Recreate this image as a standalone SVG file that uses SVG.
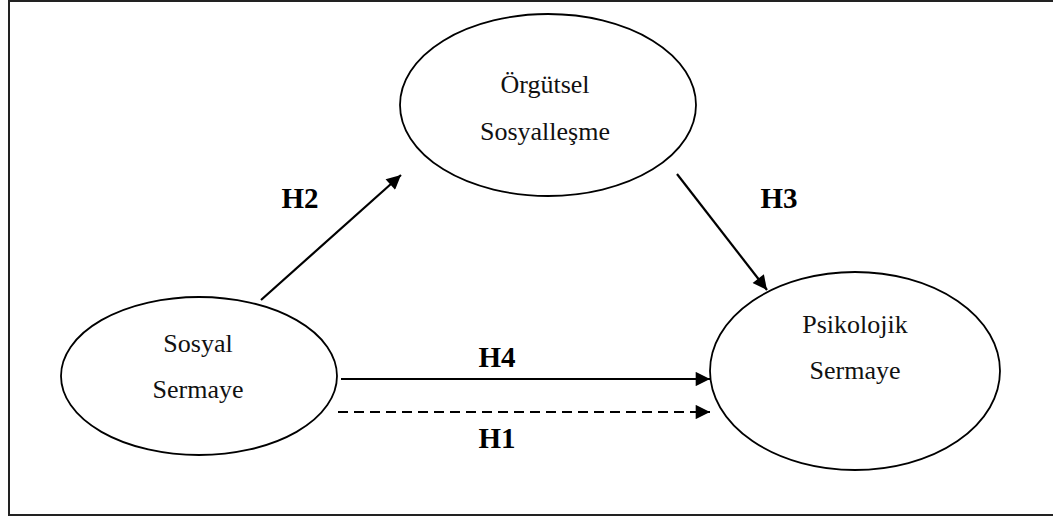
<svg xmlns="http://www.w3.org/2000/svg" width="1053" height="519" viewBox="0 0 1053 519">
<style>
.frame{fill:none;stroke:#222;stroke-width:2}
.node{fill:#fff;stroke:#000;stroke-width:1.8}
.t{font-family:"Liberation Serif","Times New Roman",serif;font-size:26px;fill:#111;text-anchor:middle}
.lbl{font-family:"Liberation Serif","Times New Roman",serif;font-size:29px;font-weight:bold;fill:#000;text-anchor:middle}
.c{stroke:#000;stroke-width:2.2;fill:none}
.dash{stroke-dasharray:10 6}
</style>
<defs>
<marker id="ah" viewBox="0 0 10 10" refX="10" refY="5" markerWidth="7.5" markerHeight="6.5" markerUnits="strokeWidth" orient="auto">
<path d="M0,0 L10,5 L0,10 z" fill="#000"/>
</marker>
</defs>
<rect class="frame" x="9" y="1" width="1060" height="514"/>
<g id="node-orgutsel">
<ellipse class="node" cx="548" cy="105" rx="148" ry="91"/>
<text class="t" x="545" y="93">Örgütsel</text>
<text class="t" x="545" y="140">Sosyalleşme</text>
</g>
<g id="node-sosyal">
<ellipse class="node" cx="199" cy="376" rx="138" ry="79"/>
<text class="t" x="198" y="352">Sosyal</text>
<text class="t" x="198" y="398">Sermaye</text>
</g>
<g id="node-psikolojik">
<ellipse class="node" cx="855" cy="371" rx="145" ry="99"/>
<text class="t" x="855" y="333">Psikolojik</text>
<text class="t" x="855" y="379">Sermaye</text>
</g>
<g id="connectors">
<line class="c" x1="261" y1="300" x2="401" y2="175" marker-end="url(#ah)"/>
<line class="c" x1="677" y1="174" x2="767" y2="290" marker-end="url(#ah)"/>
<line class="c" x1="341" y1="379" x2="710" y2="379" marker-end="url(#ah)"/>
<line class="c dash" x1="338" y1="412" x2="710" y2="412" marker-end="url(#ah)"/>
<text class="lbl" x="300" y="208">H2</text>
<text class="lbl" x="779" y="208">H3</text>
<text class="lbl" x="497" y="367">H4</text>
<text class="lbl" x="497" y="448">H1</text>
</g>
</svg>
